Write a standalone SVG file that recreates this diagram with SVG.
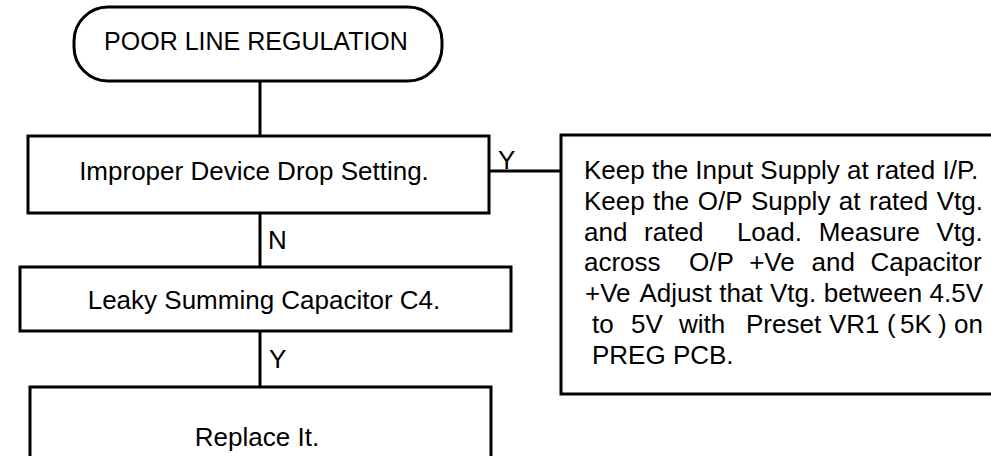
<svg xmlns="http://www.w3.org/2000/svg" width="991" height="456" viewBox="0 0 991 456">
<style>
.box{fill:#fff;stroke:#000;stroke-width:3}
.ln{fill:none;stroke:#000;stroke-width:3}
text{font-family:"Liberation Sans",Arial,sans-serif;font-size:26px;fill:#000}
.t25{font-size:25px}
</style>
<rect width="991" height="456" fill="#fff"/>
<g id="connectors">
<line class="ln" x1="260" y1="81" x2="260" y2="136"/>
<line class="ln" x1="260" y1="213" x2="260" y2="267"/>
<line class="ln" x1="260" y1="331" x2="260" y2="387"/>
<line class="ln" x1="489" y1="171" x2="561" y2="171"/>
<text x="498" y="169">Y</text>
<text x="268" y="249">N</text>
<text x="269" y="368">Y</text>
</g>
<g id="start">
<rect class="box" x="74" y="7" width="368" height="74" rx="34" ry="34"/>
<text class="t25" x="256" y="50" text-anchor="middle">POOR LINE REGULATION</text>
</g>
<g id="device-drop">
<rect class="box" x="28" y="136" width="461" height="77"/>
<text x="254" y="180" text-anchor="middle">Improper Device Drop Setting.</text>
</g>
<g id="capacitor">
<rect class="box" x="20" y="267" width="491" height="64"/>
<text x="264" y="309" text-anchor="middle">Leaky  Summing Capacitor C4.</text>
</g>
<g id="replace">
<rect class="box" x="30" y="387" width="461" height="100"/>
<text x="257" y="446" text-anchor="middle">Replace It.</text>
</g>
<g id="adjust">
<rect class="box" x="561" y="135" width="470" height="259"/>
<text y="179"><tspan x="584">Keep the Input Supply at rated I/P.</tspan></text>
<text y="210"><tspan x="584">Keep</tspan> <tspan x="653.1">the</tspan> <tspan x="697.7">O/P</tspan> <tspan x="750.9">Supply</tspan> <tspan x="838.8">at</tspan> <tspan x="869">rated</tspan> <tspan x="936.7">Vtg.</tspan></text>
<text y="241"><tspan x="584">and</tspan> <tspan x="644.1">rated</tspan> <tspan x="736.9">Load.</tspan> <tspan x="818.7">Measure</tspan> <tspan x="936.5">Vtg.</tspan></text>
<text y="271"><tspan x="584">across</tspan> <tspan x="689">O/P</tspan> <tspan x="749.2">+Ve</tspan> <tspan x="811.6">and</tspan> <tspan x="870.4">Capacitor</tspan></text>
<text y="302"><tspan x="585">+Ve</tspan> <tspan x="639.4">Adjust</tspan> <tspan x="719.2">that</tspan> <tspan x="770">Vtg.</tspan> <tspan x="823.8">between</tspan> <tspan x="929.5">4.5V</tspan></text>
<text y="333"><tspan x="592">to</tspan> <tspan x="631">5V</tspan> <tspan x="679">with</tspan> <tspan x="746">Preset</tspan> <tspan x="829">VR1</tspan> <tspan x="887">(</tspan> <tspan x="900">5K</tspan> <tspan x="938">)</tspan> <tspan x="954">on</tspan></text>
<text y="364"><tspan x="592">PREG PCB.</tspan></text>
</g>
</svg>
